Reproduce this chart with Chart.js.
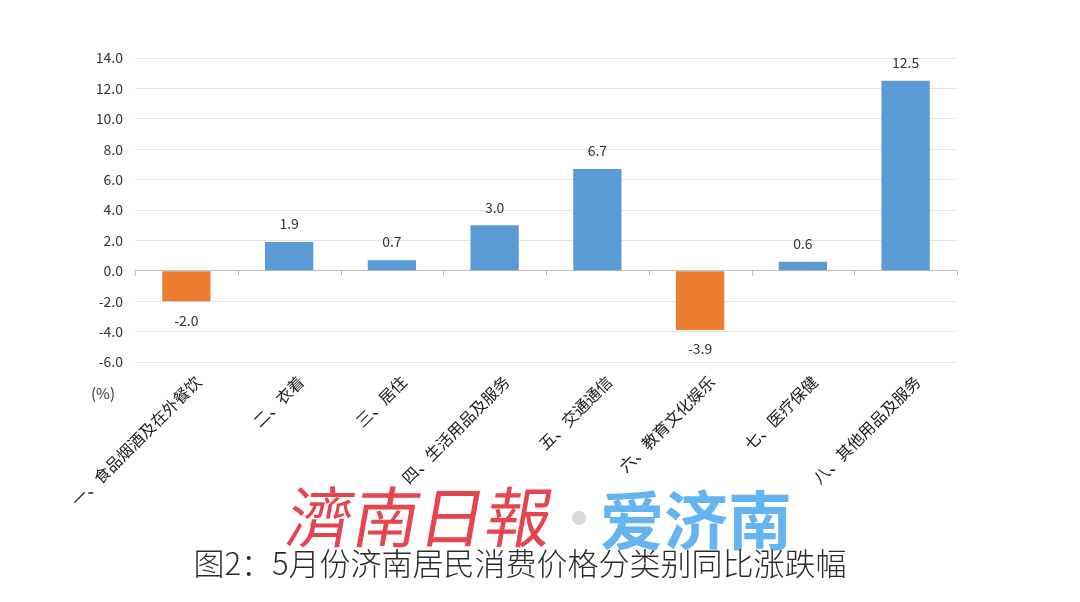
<!DOCTYPE html>
<html>
<head>
<meta charset="utf-8">
<script src="https://cdn.jsdelivr.net/npm/chart.js@4/dist/chart.umd.min.js"></script>
<style>
  html, body { margin: 0; padding: 0; background: #fff; }
  #wrap { width: 1080px; height: 602px; }
</style>
</head>
<body>
<div id="wrap"><canvas id="c" width="1080" height="602"></canvas></div>
<script>
const categories = ['一、食品烟酒及在外餐饮', '二、衣着', '三、居住', '四、生活用品及服务',
  '五、交通通信', '六、教育文化娱乐', '七、医疗保健', '八、其他用品及服务'];
const values = [-2.0, 1.9, 0.7, 3.0, 6.7, -3.9, 0.6, 12.5];
const yMin = -6, yMax = 14, yStep = 2;
const titleText = '图2：5月份济南居民消费价格分类别同比涨跌幅';
const unitText = '(%)';

const BLUE = '#5b9bd5';
const ORANGE = '#ed7d31';
const CJK = '"Noto Sans CJK SC", "Noto Sans", sans-serif';

// value labels, zero-line ticks, unit, logo and caption
const extras = {
  id: 'extras',
  afterDatasetsDraw(chart) {
    const ctx = chart.ctx;
    const xs = chart.scales.x, ys = chart.scales.y;
    const meta = chart.getDatasetMeta(0);
    ctx.save();
    ctx.font = '14px ' + CJK;
    ctx.fillStyle = '#333333';
    ctx.textAlign = 'center';
    ctx.textBaseline = 'middle';
    meta.data.forEach((bar, i) => {
      const v = values[i];
      const y = v >= 0 ? bar.y - 18 : bar.y + 19;
      ctx.fillText(v.toFixed(1), bar.x, y);
    });

    // small ticks under zero line at category boundaries
    const y0 = ys.getPixelForValue(0);
    const half = (xs.getPixelForValue(1) - xs.getPixelForValue(0)) / 2;
    ctx.strokeStyle = '#bfbfbf';
    ctx.lineWidth = 1;
    for (let i = 0; i <= categories.length; i++) {
      const x = Math.round(xs.getPixelForValue(0) - half + i * half * 2) + 0.5;
      ctx.beginPath();
      ctx.moveTo(x, y0);
      ctx.lineTo(x, y0 + 5);
      ctx.stroke();
    }

    // unit
    ctx.font = '15px ' + CJK;
    ctx.fillStyle = '#333333';
    ctx.textAlign = 'center';
    ctx.fillText(unitText, 103, 393);

    // logo
    ctx.save();
    ctx.translate(284, 542);
    ctx.transform(1, 0, -0.18, 1, 0, 0);
    ctx.font = '66px "Noto Sans CJK TC", serif';
    ctx.fillStyle = '#e6454f';
    ctx.textAlign = 'left';
    ctx.textBaseline = 'alphabetic';
    ctx.fillText('濟南日報', 0, 0);
    ctx.restore();
    ctx.fillStyle = '#d9d9d9';
    ctx.beginPath();
    ctx.arc(579, 518, 7, 0, Math.PI * 2);
    ctx.fill();
    ctx.font = 'bold 64px ' + CJK;
    ctx.fillStyle = '#65b4f2';
    ctx.textAlign = 'left';
    ctx.textBaseline = 'alphabetic';
    ctx.fillText('爱济南', 600, 544);

    // caption
    ctx.font = '300 31px ' + CJK;
    ctx.fillStyle = '#2b2b2b';
    ctx.textAlign = 'center';
    ctx.textBaseline = 'middle';
    ctx.fillText(titleText, 520, 563);
    ctx.restore();
  }
};

new Chart(document.getElementById('c'), {
  type: 'bar',
  plugins: [extras],
  data: {
    labels: categories,
    datasets: [{
      data: values,
      backgroundColor: values.map(v => v < 0 ? ORANGE : BLUE),
      barPercentage: 0.47,
      categoryPercentage: 1,
    }],
  },
  options: {
    responsive: false,
    animation: false,
    devicePixelRatio: 1,
    layout: {
      padding: { left: 50, right: 123, top: 58, bottom: 0 },
    },
    plugins: {
      legend: { display: false },
      title: { display: false },
      tooltip: { enabled: false },
    },
    scales: {
      x: {
        afterFit: (s) => { s.height = 240; },
        grid: { display: false },
        border: { display: false },
        ticks: {
          minRotation: 45,
          maxRotation: 45,
          autoSkip: false,
          color: '#1a1a1a',
          padding: 2,
          labelOffset: 12,
          font: { size: 16, family: CJK },
        },
      },
      y: {
        min: yMin,
        max: yMax,
        afterFit: (s) => { s.width = 85; },
        border: { display: false },
        grid: {
          color: (c) => c.tick && c.tick.value === 0 ? '#bfbfbf' : '#e3e3e3',
          lineWidth: 1,
          drawTicks: false,
        },
        ticks: {
          stepSize: yStep,
          padding: 12,
          color: '#333333',
          font: { size: 14, family: CJK },
          callback: (v) => Number(v).toFixed(1),
        },
      },
    },
  },
});
</script>
</body>
</html>
